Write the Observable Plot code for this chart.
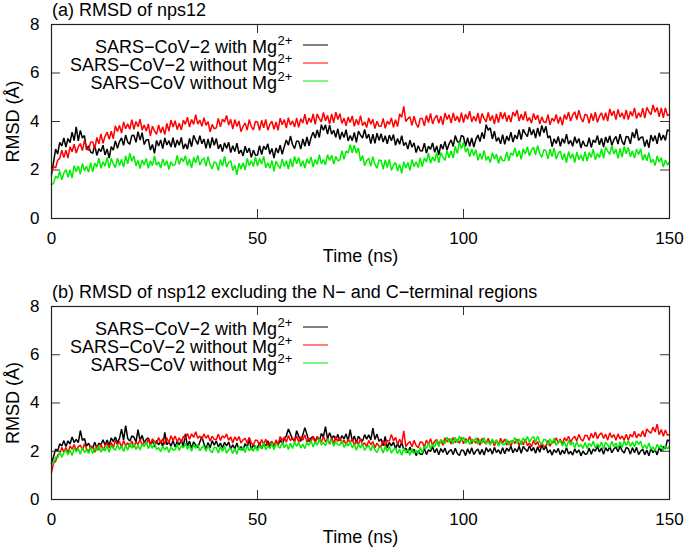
<!DOCTYPE html>
<html><head><meta charset="utf-8">
<script src="https://cdn.jsdelivr.net/npm/d3@7"></script>
<script src="https://cdn.jsdelivr.net/npm/@observablehq/plot@0.6"></script>
<style>
body{margin:0;background:#fff;}
#chart{position:relative;width:686px;height:549px;}
#chart svg{display:block;}
</style></head><body><div id="chart"></div>
<script>
// time axis: one sample every 0.5 ns, 0..150 ns
const time = Array.from({length: 301}, (_, i) => i * 0.5);

// Panel (a): RMSD of nsp12 (Å)
const aBlack = [
1.80,2.32,2.86,2.66,3.14,2.99,3.32,2.95,3.30,3.13,3.56,3.21,3.78,3.20,3.63,3.32,3.42,2.84,2.99,2.74,
2.69,3.03,2.60,2.88,2.76,3.02,2.62,2.87,2.49,2.96,2.82,3.20,2.90,3.17,3.32,3.02,3.44,3.15,3.06,3.42,
3.43,3.14,3.58,3.23,3.54,3.05,3.24,3.26,2.82,3.05,2.69,3.22,2.99,3.24,2.88,3.32,3.03,3.21,2.95,3.33,
2.93,3.24,3.02,3.34,2.87,3.08,2.86,3.30,2.96,3.43,3.23,3.06,3.42,3.08,3.28,2.89,3.28,2.90,3.34,3.02,
3.30,2.87,3.06,2.76,3.12,2.89,3.15,2.72,3.00,2.76,3.11,2.68,2.82,2.58,2.98,2.71,2.90,2.52,2.82,2.61,
2.62,3.00,2.64,2.98,2.84,3.08,2.66,2.89,2.49,2.91,2.70,3.02,2.65,2.97,3.24,3.02,3.40,3.05,2.88,3.20,
3.18,2.86,3.28,2.98,3.36,3.00,3.34,3.56,3.32,3.65,3.34,3.87,3.64,3.86,3.48,3.85,3.48,3.64,3.35,3.70,
3.26,3.57,3.34,3.66,3.20,3.42,3.21,3.55,3.14,3.60,3.44,3.32,3.67,3.30,3.48,3.09,3.48,3.10,3.52,3.22,
3.50,3.15,3.41,3.08,3.44,3.21,3.46,3.02,3.30,3.06,3.42,3.01,3.14,2.86,3.23,2.94,3.12,2.72,3.00,2.79,
2.78,3.11,2.70,2.98,2.85,3.12,2.73,2.99,2.62,3.06,2.86,3.18,2.82,3.08,3.24,2.97,3.42,3.18,3.11,3.43,
3.38,2.98,3.33,2.98,3.32,2.95,3.26,3.44,3.17,3.55,3.29,3.87,3.64,3.74,3.28,3.60,3.18,3.34,3.08,3.46,
3.06,3.40,3.20,3.56,3.15,3.44,3.28,3.66,3.25,3.68,3.50,3.38,3.77,3.44,3.67,3.32,3.74,3.39,3.84,3.54,
3.80,3.32,3.41,2.96,3.29,3.09,3.38,2.98,3.30,3.10,3.48,3.07,3.22,2.98,3.37,3.10,3.30,2.91,3.20,3.00,
2.99,3.33,2.93,3.24,3.13,3.42,3.04,3.31,2.94,3.36,3.12,3.41,3.02,3.25,3.38,3.07,3.48,3.17,3.04,3.38,
3.36,3.08,3.56,3.32,3.70,3.22,3.34,3.36,2.97,3.25,2.92,3.44,3.19,3.42,3.08,3.53,3.23,3.44,3.22,3.66,
3.60];
const aRed = [
1.90,2.14,2.09,2.40,2.48,2.82,2.51,2.82,2.49,2.96,2.75,3.06,2.70,2.95,3.09,2.80,3.22,2.92,2.80,3.15,
3.16,2.88,3.34,3.08,3.49,3.10,3.39,3.56,3.27,3.60,3.29,3.82,3.59,3.84,3.52,3.98,3.70,3.91,3.68,4.08,
3.68,4.00,3.78,4.10,3.64,3.86,3.61,3.90,3.41,3.81,3.61,3.47,3.86,3.53,3.78,3.46,3.92,3.60,4.06,3.77,
4.03,3.67,3.93,3.66,4.06,3.88,4.18,3.77,4.08,3.88,4.28,3.89,4.06,3.80,4.16,3.84,3.99,3.57,3.88,3.70,
3.74,4.13,3.78,4.10,3.98,4.25,3.85,4.09,3.69,4.08,3.79,4.02,3.58,3.80,3.94,3.65,4.08,3.78,3.66,4.00,
3.98,3.64,4.05,3.74,4.09,3.64,3.88,4.01,3.68,3.98,3.64,4.14,3.87,4.08,3.73,4.16,3.85,4.03,3.77,4.15,
3.76,4.12,3.94,4.30,3.88,4.14,3.96,4.31,3.88,4.31,4.12,3.99,4.37,4.03,4.25,3.89,4.31,3.95,4.39,4.08,
4.32,3.92,4.14,3.82,4.18,3.96,4.23,3.80,4.09,3.86,4.24,3.83,3.99,3.75,4.15,3.89,4.09,3.71,4.01,3.81,
3.80,4.13,3.72,4.01,3.88,4.15,3.76,4.07,3.79,4.31,4.17,4.62,4.00,4.12,4.19,3.84,4.22,3.90,3.76,4.12,
4.12,3.82,4.25,3.96,4.33,3.90,4.14,4.26,3.93,4.22,3.86,4.35,4.08,4.28,3.93,4.35,4.03,4.22,3.97,4.36,
3.96,4.30,4.09,4.43,3.98,4.22,4.01,4.35,3.91,4.33,4.13,3.99,4.37,4.03,4.25,3.89,4.31,3.95,4.39,4.10,
4.37,4.00,4.26,3.98,4.39,4.22,4.47,4.02,4.30,4.06,4.42,4.01,4.17,3.93,4.33,4.07,4.27,3.89,4.19,3.98,
3.96,4.28,3.86,4.14,4.01,4.29,3.92,4.20,3.84,4.29,4.08,4.39,4.02,4.27,4.40,4.08,4.47,4.14,3.98,4.30,
4.26,3.92,4.33,4.03,4.39,3.96,4.22,4.36,4.05,4.36,4.02,4.52,4.24,4.44,4.08,4.50,4.18,4.36,4.10,4.48,
4.08,4.42,4.22,4.56,4.12,4.36,4.18,4.55,4.14,4.58,4.40,4.28,4.68,4.38,4.58,4.19,4.56,4.15,4.56,4.24,
4.30];
const aGreen = [
1.40,1.45,1.74,1.66,1.95,1.60,1.87,2.02,1.70,2.00,1.67,2.18,1.93,2.16,1.83,2.27,1.97,2.16,1.91,2.30,
1.92,2.29,2.12,2.49,2.07,2.34,2.16,2.52,2.08,2.48,2.26,2.10,2.49,2.18,2.44,2.12,2.58,2.25,2.69,2.36,
2.58,2.17,2.39,2.06,2.42,2.21,2.48,2.07,2.38,2.18,2.58,2.19,2.34,2.08,2.46,2.18,2.38,2.02,2.34,2.18,
2.22,2.60,2.23,2.50,2.34,2.59,2.19,2.45,2.08,2.52,2.30,2.60,2.20,2.40,2.50,2.16,2.55,2.22,2.04,2.34,
2.28,1.98,2.43,2.16,2.56,2.12,2.32,2.38,1.98,2.20,1.80,2.28,2.04,2.30,2.00,2.48,2.18,2.38,2.14,2.54,
2.16,2.48,2.25,2.56,2.09,2.30,2.07,2.39,1.94,2.37,2.18,2.06,2.46,2.14,2.38,2.04,2.47,2.12,2.56,2.26,
2.52,2.14,2.38,2.08,2.46,2.26,2.54,2.12,2.43,2.23,2.63,2.25,2.43,2.21,2.63,2.39,2.61,2.24,2.56,2.38,
2.42,2.80,2.44,2.78,2.71,3.04,2.71,3.02,2.69,2.91,2.37,2.60,2.18,2.38,2.49,2.16,2.55,2.23,2.08,2.42,
2.38,2.03,2.42,2.10,2.44,1.98,2.20,2.31,1.96,2.23,1.86,2.34,2.08,2.31,1.98,2.43,2.14,2.34,2.10,2.50,
2.13,2.50,2.33,2.70,2.28,2.54,2.36,2.72,2.29,2.72,2.53,2.40,2.80,2.50,2.78,2.49,2.98,2.68,3.16,2.88,
3.15,2.74,2.91,2.54,2.86,2.60,2.84,2.40,2.68,2.44,2.81,2.40,2.56,2.31,2.71,2.45,2.65,2.27,2.57,2.38,
2.39,2.75,2.38,2.70,2.61,2.91,2.54,2.80,2.44,2.88,2.66,2.96,2.58,2.82,2.94,2.62,3.01,2.68,2.52,2.84,
2.80,2.46,2.86,2.55,2.90,2.45,2.68,2.78,2.42,2.68,2.30,2.76,2.47,2.67,2.31,2.74,2.43,2.62,2.37,2.76,
2.37,2.72,2.52,2.86,2.42,2.68,2.51,2.88,2.48,2.94,2.78,2.64,3.02,2.66,2.86,2.48,2.89,2.53,2.97,2.67,
2.93,2.55,2.79,2.49,2.86,2.64,2.88,2.40,2.65,2.38,2.72,2.30,2.44,2.18,2.58,2.32,2.51,2.12,2.41,2.20,
2.34];

// Panel (b): RMSD of nsp12 excluding the N- and C-terminal regions (Å)
const bBlack = [
1.50,1.78,2.09,2.01,2.31,2.22,2.44,2.20,2.43,2.30,2.59,2.36,2.49,2.36,2.86,2.45,2.53,2.21,2.33,2.15,
2.14,2.37,2.13,2.33,2.27,2.48,2.26,2.46,2.25,2.55,2.40,2.59,2.35,2.53,2.92,2.46,3.06,2.53,2.42,2.63,
2.59,2.37,2.90,2.44,2.66,2.35,2.49,2.55,2.30,2.45,2.17,2.45,2.26,2.41,2.20,2.78,2.27,2.39,2.21,2.45,
2.18,2.40,2.26,2.48,2.19,2.72,2.21,2.42,2.12,2.39,2.25,2.15,2.38,2.60,2.31,2.08,2.36,2.14,2.44,2.25,
2.43,2.18,2.34,2.13,2.37,2.22,2.38,2.09,2.27,2.10,2.34,2.08,2.19,2.05,2.32,2.16,2.52,2.06,2.27,2.14,
2.14,2.36,2.10,2.30,2.23,2.43,2.19,2.37,2.13,2.40,2.25,2.48,2.29,2.51,2.64,2.92,2.71,2.51,2.42,2.85,
2.63,2.41,2.68,2.98,2.70,2.40,2.55,2.62,2.40,2.61,2.40,2.74,2.59,3.02,2.51,2.77,2.54,2.64,2.46,2.70,
2.44,2.65,2.51,2.72,2.42,2.90,2.41,2.63,2.34,2.62,2.49,2.42,2.69,2.50,2.68,2.47,2.96,2.49,2.71,2.41,
2.51,2.23,2.62,2.14,2.37,2.22,2.38,2.11,2.31,2.14,2.37,2.07,2.13,1.94,2.17,1.97,2.08,1.82,2.01,1.88,
1.88,2.11,1.86,2.06,1.99,2.19,1.94,2.11,1.85,2.11,1.95,2.13,1.86,2.00,2.07,1.86,2.12,1.91,1.82,2.05,
2.03,1.82,2.10,1.90,2.14,1.86,2.01,2.09,1.87,2.08,1.84,2.15,1.97,2.11,1.88,2.16,1.95,2.06,1.89,2.15,
1.90,2.13,2.00,2.22,1.94,2.11,1.98,2.21,1.92,2.20,2.08,1.99,2.23,2.01,2.16,1.92,2.19,1.96,2.25,2.06,
2.21,1.93,2.06,1.84,2.07,1.94,2.12,1.85,2.05,1.90,2.15,1.89,1.99,1.84,2.10,1.93,2.06,1.81,2.01,1.88,
1.90,2.13,1.88,2.09,2.00,2.21,1.97,2.14,1.88,2.15,2.00,2.19,1.94,2.09,2.18,1.98,2.22,2.02,1.93,2.16,
2.11,1.88,2.15,1.94,2.16,1.86,2.01,2.08,1.86,2.05,1.81,2.12,1.94,2.07,1.85,2.15,2.00,2.19,2.12,2.47,
2.42];
const bRed = [
1.13,1.51,1.58,1.85,1.89,2.16,1.96,2.16,1.93,2.22,2.09,2.28,2.03,2.18,2.26,2.05,2.31,2.09,1.99,2.21,
2.18,1.96,2.24,2.05,2.31,2.04,2.23,2.33,2.14,2.36,2.14,2.45,2.27,2.40,2.17,2.44,2.23,2.35,2.18,2.43,
2.17,2.40,2.28,2.51,2.23,2.40,2.28,2.51,2.23,2.52,2.40,2.32,2.57,2.36,2.52,2.28,2.56,2.34,2.64,2.45,
2.63,2.39,2.56,2.36,2.62,2.52,2.74,2.50,2.72,2.57,2.81,2.54,2.63,2.47,2.72,2.54,2.67,2.42,2.62,2.49,
2.49,2.71,2.45,2.64,2.55,2.72,2.45,2.60,2.34,2.60,2.44,2.61,2.34,2.47,2.54,2.33,2.58,2.35,2.25,2.47,
2.44,2.22,2.49,2.28,2.50,2.19,2.34,2.41,2.23,2.47,2.28,2.61,2.45,2.59,2.37,2.65,2.44,2.56,2.39,2.64,
2.38,2.60,2.46,2.68,2.38,2.54,2.41,2.62,2.33,2.60,2.47,2.38,2.61,2.39,2.53,2.29,2.56,2.32,2.61,2.41,
2.58,2.32,2.47,2.26,2.50,2.36,2.53,2.25,2.44,2.28,2.52,2.25,2.35,2.19,2.45,2.27,2.40,2.14,2.34,2.21,
2.21,2.45,2.22,2.45,2.42,2.70,2.43,2.58,2.28,2.50,2.31,2.85,2.19,2.32,2.40,2.19,2.45,2.24,2.15,2.38,
2.37,2.17,2.46,2.27,2.52,2.24,2.41,2.49,2.28,2.48,2.25,2.56,2.39,2.52,2.30,2.57,2.36,2.49,2.32,2.57,
2.31,2.53,2.39,2.61,2.31,2.47,2.33,2.55,2.25,2.53,2.39,2.30,2.54,2.31,2.46,2.22,2.48,2.25,2.54,2.34,
2.51,2.26,2.42,2.21,2.45,2.32,2.50,2.23,2.42,2.27,2.50,2.24,2.34,2.19,2.45,2.27,2.40,2.14,2.34,2.21,
2.22,2.45,2.21,2.41,2.35,2.56,2.33,2.51,2.28,2.56,2.43,2.62,2.37,2.53,2.62,2.42,2.70,2.50,2.42,2.66,
2.65,2.45,2.74,2.55,2.80,2.52,2.69,2.76,2.53,2.71,2.46,2.76,2.57,2.69,2.46,2.72,2.51,2.63,2.46,2.71,
2.46,2.70,2.59,2.83,2.55,2.72,2.61,2.85,2.59,2.92,2.81,2.75,3.00,2.80,3.12,2.68,2.90,2.62,2.88,2.66,
2.70];
const bGreen = [
1.50,1.52,1.76,1.72,1.98,1.75,1.95,2.05,1.85,2.05,1.82,2.14,1.97,2.11,1.88,2.16,1.95,2.07,1.91,2.16,
1.91,2.14,2.02,2.24,1.96,2.13,2.01,2.24,1.96,2.24,2.12,2.04,2.28,2.07,2.22,1.99,2.26,2.04,2.33,2.13,
2.31,2.07,2.24,2.05,2.31,2.19,2.38,2.11,2.29,2.12,2.35,2.07,2.15,1.98,2.22,2.05,2.19,1.95,2.17,2.05,
2.06,2.29,2.03,2.22,2.14,2.33,2.08,2.25,2.00,2.27,2.12,2.29,2.02,2.15,2.22,2.00,2.25,2.03,1.94,2.17,
2.15,1.93,2.20,1.99,2.22,1.92,2.07,2.13,1.91,2.11,1.88,2.20,2.03,2.17,1.95,2.23,2.02,2.15,1.99,2.25,
2.00,2.23,2.11,2.34,2.06,2.23,2.11,2.34,2.06,2.34,2.21,2.13,2.37,2.15,2.30,2.07,2.34,2.11,2.40,2.20,
2.37,2.13,2.30,2.11,2.37,2.25,2.44,2.18,2.39,2.25,2.51,2.26,2.37,2.23,2.50,2.33,2.46,2.21,2.40,2.26,
2.26,2.45,2.16,2.32,2.22,2.40,2.14,2.30,2.04,2.30,2.14,2.31,2.04,2.17,2.24,2.02,2.27,2.05,1.95,2.17,
2.15,1.93,2.20,1.99,2.22,1.92,2.07,2.13,1.90,2.08,1.83,2.13,1.94,2.06,1.83,2.10,1.90,2.04,1.89,2.16,
1.94,2.20,2.11,2.36,2.10,2.29,2.19,2.44,2.18,2.49,2.39,2.32,2.58,2.37,2.53,2.30,2.58,2.35,2.63,2.42,
2.58,2.33,2.48,2.28,2.52,2.39,2.56,2.29,2.48,2.33,2.57,2.31,2.41,2.25,2.51,2.34,2.46,2.21,2.41,2.28,
2.28,2.50,2.25,2.44,2.37,2.57,2.33,2.51,2.27,2.55,2.41,2.61,2.37,2.53,2.61,2.38,2.62,2.39,2.28,2.50,
2.47,2.25,2.52,2.31,2.54,2.24,2.39,2.45,2.22,2.40,2.15,2.45,2.26,2.38,2.14,2.40,2.18,2.29,2.11,2.36,
2.11,2.33,2.20,2.42,2.13,2.30,2.17,2.39,2.10,2.38,2.26,2.16,2.41,2.19,2.34,2.10,2.38,2.15,2.44,2.24,
2.43,2.20,2.38,2.19,2.43,2.28,2.42,2.11,2.27,2.10,2.34,2.08,2.18,2.03,2.29,2.13,2.26,2.02,2.23,2.10,
2.20];

const seriesLabels = ["SARS\u2212CoV\u22122 with Mg", "SARS\u2212CoV\u22122 without Mg", "SARS\u2212CoV without Mg"];
const seriesSup = "2+";
const colors = ["#000000", "#ff0000", "#00ee00"];
const xTicks = [0, 50, 100, 150];
const yTicks = [0, 2, 4, 6, 8];
const titles = ["(a) RMSD of nps12", "(b) RMSD of nsp12 excluding the N\u2212 and C\u2212terminal regions"];
const xLabel = "Time (ns)";
const yLabel = "RMSD (\u00C5)";

const FONT = "'Liberation Sans', Arial, Helvetica, sans-serif";
const W = 686, ML = 51, MR = 17, TICK = 9;

function panel(title, series, height, marginTop, marginBottom) {
  const frameH = height - marginTop - marginBottom;
  const frameW = W - ML - MR;
  const marks = [];
  series.forEach((vals, s) => {
    marks.push(Plot.line(vals, {x: (d, i) => time[i], y: d => d, stroke: colors[s], strokeWidth: 1.5, strokeLinejoin: "miter"}));
  });
  marks.push(
    Plot.ruleX(xTicks, {x: d => d, insetTop: frameH - TICK, stroke: "#333"}),
    Plot.ruleX(xTicks, {x: d => d, insetBottom: frameH - TICK, stroke: "#333"}),
    Plot.ruleY(yTicks, {y: d => d, insetRight: frameW - TICK, stroke: "#333"}),
    Plot.ruleY(yTicks, {y: d => d, insetLeft: frameW - TICK, stroke: "#333"}),
    Plot.frame({stroke: "#222", strokeWidth: 1.2}),
    Plot.text(xTicks, {x: d => d, text: d => String(d), frameAnchor: "bottom", lineAnchor: "middle", dy: 20, fontSize: 17, fill: "#000"}),
    Plot.text(yTicks, {y: d => d, text: d => String(d), frameAnchor: "left", textAnchor: "end", lineAnchor: "middle", dx: -12, fontSize: 17, fill: "#000"}),
    Plot.text([xLabel], {text: d => d, frameAnchor: "bottom", lineAnchor: "middle", textAnchor: "middle", dy: 37.5, fontSize: 18, fill: "#000"}),
    Plot.text([yLabel], {text: d => d, frameAnchor: "left", lineAnchor: "middle", textAnchor: "middle", rotate: -90, dx: -38, fontSize: 18, fill: "#000"})
  );
  const plot = Plot.plot({
    width: W, height, marginLeft: ML, marginRight: MR, marginTop, marginBottom,
    x: {domain: [0, 150], axis: null},
    y: {domain: [0, 8], axis: null},
    style: {fontFamily: FONT, background: "#fff", color: "#000", overflow: "visible"},
    marks
  });
  const svg = d3.select(plot);
  svg.append("text").attr("x", 52).attr("y", marginTop - 8.5).attr("text-anchor", "start")
    .attr("font-size", 18).attr("font-family", FONT).attr("fill", "#000").text(title);
  const lg = svg.append("g").attr("font-family", FONT).attr("fill", "#000");
  seriesLabels.forEach((lab, i) => {
    const yb = marginTop + 29 + 18 * i;
    lg.append("text").attr("x", 277).attr("y", yb).attr("text-anchor", "end").attr("font-size", 18).text(lab);
    lg.append("text").attr("x", 277.5).attr("y", yb - 8).attr("text-anchor", "start").attr("font-size", 13).text(seriesSup);
    lg.append("line").attr("x1", 303).attr("x2", 328).attr("y1", yb - 8).attr("y2", yb - 8)
      .attr("stroke", colors[i]).attr("stroke-width", 1);
  });
  return plot;
}

const root = document.getElementById("chart");
root.appendChild(panel(titles[0], [aBlack, aRed, aGreen], 274, 24, 56));
root.appendChild(panel(titles[1], [bBlack, bRed, bGreen], 275, 32, 50));
</script></body></html>
